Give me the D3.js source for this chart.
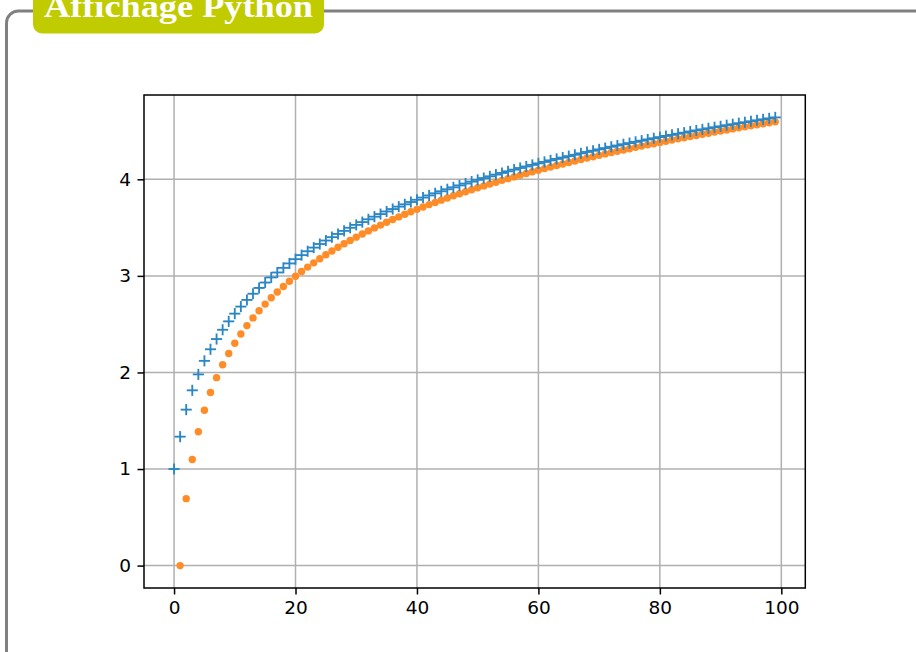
<!DOCTYPE html>
<html>
<head>
<meta charset="utf-8">
<script src="https://cdn.jsdelivr.net/npm/d3@7"></script>
<style>
  html, body { margin: 0; padding: 0; background: #ffffff; }
  svg { display: block; }
</style>
</head>
<body>
<svg id="chart" width="916" height="652"></svg>
<script>
// ---- data ----
const title = "Affichage Python";

// blue "+" series, x = 0 .. 99
const blueStart = 0;
const blueValues = [
  1.000, 1.335, 1.615, 1.815, 1.980, 2.120, 2.240, 2.346, 2.442, 2.529,
  2.609, 2.682, 2.751, 2.815, 2.875, 2.931, 2.984, 3.035, 3.083, 3.129,
  3.173, 3.215, 3.255, 3.293, 3.330, 3.366, 3.401, 3.434, 3.466, 3.498,
  3.528, 3.557, 3.586, 3.613, 3.640, 3.667, 3.692, 3.717, 3.741, 3.765,
  3.788, 3.811, 3.833, 3.855, 3.876, 3.897, 3.917, 3.937, 3.956, 3.976,
  3.994, 4.013, 4.031, 4.049, 4.066, 4.083, 4.100, 4.117, 4.133, 4.149,
  4.165, 4.180, 4.196, 4.211, 4.225, 4.240, 4.254, 4.269, 4.283, 4.296,
  4.310, 4.323, 4.337, 4.350, 4.363, 4.375, 4.388, 4.400, 4.413, 4.425,
  4.437, 4.449, 4.460, 4.472, 4.483, 4.495, 4.506, 4.517, 4.528, 4.539,
  4.549, 4.560, 4.570, 4.581, 4.591, 4.601, 4.611, 4.621, 4.631, 4.641
];

// orange "." series, x = 1 .. 99
const orangeStart = 1;
const orangeValues = [
  0.000, 0.693, 1.099, 1.386, 1.609, 1.792, 1.946, 2.079, 2.197, 2.303,
  2.398, 2.485, 2.565, 2.639, 2.708, 2.773, 2.833, 2.890, 2.944, 2.996,
  3.045, 3.091, 3.135, 3.178, 3.219, 3.258, 3.296, 3.332, 3.367, 3.401,
  3.434, 3.466, 3.497, 3.526, 3.555, 3.584, 3.611, 3.638, 3.664, 3.689,
  3.714, 3.738, 3.761, 3.784, 3.807, 3.829, 3.850, 3.871, 3.892, 3.912,
  3.932, 3.951, 3.970, 3.989, 4.007, 4.025, 4.043, 4.060, 4.078, 4.094,
  4.111, 4.127, 4.143, 4.159, 4.174, 4.190, 4.205, 4.220, 4.234, 4.248,
  4.263, 4.277, 4.290, 4.304, 4.317, 4.331, 4.344, 4.357, 4.369, 4.382,
  4.394, 4.407, 4.419, 4.431, 4.443, 4.454, 4.466, 4.477, 4.489, 4.500,
  4.511, 4.522, 4.533, 4.543, 4.554, 4.564, 4.575, 4.585, 4.595
];

const xTicks = [0, 20, 40, 60, 80, 100];
const yTicks = [0, 1, 2, 3, 4];

// ---- drawing ----
const svg = d3.select("#chart");
const blueColor = "#2a86c4";
const orangeColor = "#ff8c26";

// outer frame (tcolorbox)
svg.append("rect")
  .attr("x", 6.5).attr("y", 11)
  .attr("width", 1000).attr("height", 800)
  .attr("rx", 12).attr("ry", 12)
  .attr("fill", "none")
  .attr("stroke", "#808080")
  .attr("stroke-width", 3);

// title badge
svg.append("rect")
  .attr("x", 33).attr("y", -12)
  .attr("width", 291).attr("height", 45.5)
  .attr("rx", 9).attr("ry", 9)
  .attr("fill", "#c0cc00");
svg.append("text")
  .attr("x", 44).attr("y", 17)
  .attr("font-family", "'Liberation Serif', 'DejaVu Serif', serif")
  .attr("font-weight", "bold")
  .attr("font-size", 32)
  .attr("fill", "#ffffff")
  .attr("textLength", 269)
  .attr("lengthAdjust", "spacingAndGlyphs")
  .text(title);

// axes area
const L = 144, R = 805.3, T = 95, B = 588;
const blue = blueValues.map((v, i) => ({ x: blueStart + i, y: v }));
const orange = orangeValues.map((v, i) => ({ x: orangeStart + i, y: v }));
const all = blue.concat(orange);
const xExt = d3.extent(all, d => d.x);
const yExt = d3.extent(all, d => d.y);
const xPad = (xExt[1] - xExt[0]) * 0.05;
const yPad = (yExt[1] - yExt[0]) * 0.05;

const x = d3.scaleLinear().domain([xExt[0] - xPad, xExt[1] + xPad]).range([L, R]);
const y = d3.scaleLinear().domain([yExt[0] - yPad, yExt[1] + yPad]).range([B, T]);

// grid
const grid = svg.append("g");
grid.selectAll("line.gx").data(xTicks).enter().append("line")
  .attr("x1", d => x(d)).attr("x2", d => x(d))
  .attr("y1", T).attr("y2", B)
  .attr("stroke", "#b0b0b0").attr("stroke-width", 1.5);
grid.selectAll("line.gy").data(yTicks).enter().append("line")
  .attr("x1", L).attr("x2", R)
  .attr("y1", d => y(d)).attr("y2", d => y(d))
  .attr("stroke", "#b0b0b0").attr("stroke-width", 1.5);

// axes
const fontFam = "'DejaVu Sans', sans-serif";
const xAxis = d3.axisBottom(x).tickValues(xTicks).tickFormat(d3.format("d"))
  .tickSizeInner(6.5).tickSizeOuter(0).tickPadding(6.5);
const yAxis = d3.axisLeft(y).tickValues(yTicks).tickFormat(d3.format("d"))
  .tickSizeInner(6.5).tickSizeOuter(0).tickPadding(6.5);

const gx = svg.append("g").attr("transform", `translate(0,${B})`).call(xAxis);
const gy = svg.append("g").attr("transform", `translate(${L},0)`).call(yAxis);
[gx, gy].forEach(g => {
  g.select(".domain").remove();
  g.selectAll(".tick line").attr("stroke", "#000").attr("stroke-width", 1.5);
  g.selectAll(".tick text")
    .attr("fill", "#000")
    .attr("font-family", fontFam)
    .attr("font-size", 18.5);
});

// markers
const clip = svg.append("clipPath").attr("id", "plotclip")
  .append("rect").attr("x", L).attr("y", T).attr("width", R - L).attr("height", B - T);

const plot = svg.append("g");
plot.selectAll("circle.o").data(orange).enter().append("circle")
  .attr("cx", d => x(d.x)).attr("cy", d => y(d.y))
  .attr("r", 3.7)
  .attr("fill", orangeColor);

const hs = 5.55;
const plus = plot.selectAll("g.p").data(blue).enter().append("g")
  .attr("transform", d => `translate(${x(d.x)},${y(d.y)})`);
plus.append("line").attr("x1", -hs).attr("x2", hs).attr("y1", 0).attr("y2", 0)
  .attr("stroke", blueColor).attr("stroke-width", 1.85);
plus.append("line").attr("x1", 0).attr("x2", 0).attr("y1", -hs).attr("y2", hs)
  .attr("stroke", blueColor).attr("stroke-width", 1.85);

// spines
svg.append("rect")
  .attr("x", L).attr("y", T).attr("width", R - L).attr("height", B - T)
  .attr("fill", "none").attr("stroke", "#000").attr("stroke-width", 1.5);
</script>
</body>
</html>
